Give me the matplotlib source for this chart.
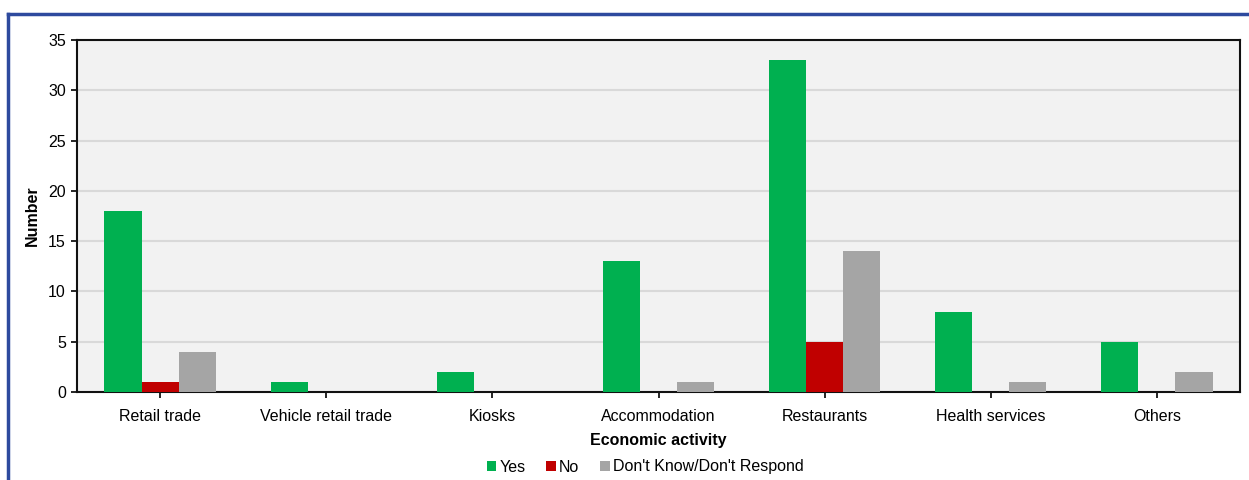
import matplotlib
matplotlib.use("Agg")
import matplotlib.pyplot as plt
import numpy as np
from matplotlib.lines import Line2D
from matplotlib.patches import Patch

plt.rcParams['font.family'] = ['Liberation Sans', 'DejaVu Sans']

categories = ["Retail trade", "Vehicle retail trade", "Kiosks", "Accommodation",
              "Restaurants", "Health services", "Others"]
yes = [18, 1, 2, 13, 33, 8, 5]
no = [1, 0, 0, 0, 5, 0, 0]
dont_know = [4, 0, 0, 1, 14, 1, 2]
series_names = ["Yes", "No", "Don't Know/Don't Respond"]
colors = ["#00B050", "#C00000", "#A5A5A5"]

W, H = 1249, 480
fig = plt.figure(figsize=(W / 100, H / 100), dpi=100)
ax = fig.add_axes([77 / W, 1 - 392 / H, (1240 - 77) / W, (392 - 40) / H])

x = np.arange(len(categories))
bw = 0.223
for i, (vals, c) in enumerate(zip([yes, no, dont_know], colors)):
    ax.bar(x + (i - 1) * bw, vals, width=bw, color=c, zorder=3, linewidth=0)

ax.set_xlim(-0.5, len(categories) - 0.5)
ax.set_ylim(0, 35)
ax.set_yticks(range(0, 36, 5))
ax.set_xticks(x)
ax.set_xticklabels(categories, fontsize=11.5)
ax.tick_params(axis='y', labelsize=11.5, length=4, width=1.2, pad=4)
ax.tick_params(axis='x', length=4, width=1.2, pad=8)
ax.set_facecolor("#F2F2F2")
ax.grid(axis='y', color="#D9D9D9", linewidth=1.5, zorder=0)
for s in ax.spines.values():
    s.set_linewidth(1.5)
    s.set_color("#111111")

ax.set_ylabel("Number", fontsize=11.5, fontweight='bold', labelpad=6)
ax.set_xlabel("Economic activity", fontsize=11.5, fontweight='bold', labelpad=7)

handles = [Patch(facecolor=c, edgecolor='none') for c in colors]
fig.legend(handles, series_names, loc='center', bbox_to_anchor=(645 / W, 1 - 467 / H),
           ncol=3, frameon=False, fontsize=11.5, handlelength=0.6, handleheight=0.6,
           handletextpad=0.2, columnspacing=1.3)

# outer blue frame
frame_kw = dict(color="#2E4A9E", linewidth=2.5, transform=fig.transFigure)
fig.add_artist(Line2D([8 / W, 1.0], [1 - 14 / H, 1 - 14 / H], **frame_kw))
fig.add_artist(Line2D([8 / W, 8 / W], [0, 1 - 14 / H], **frame_kw))

fig.savefig("out.png", dpi=100, facecolor="white")
